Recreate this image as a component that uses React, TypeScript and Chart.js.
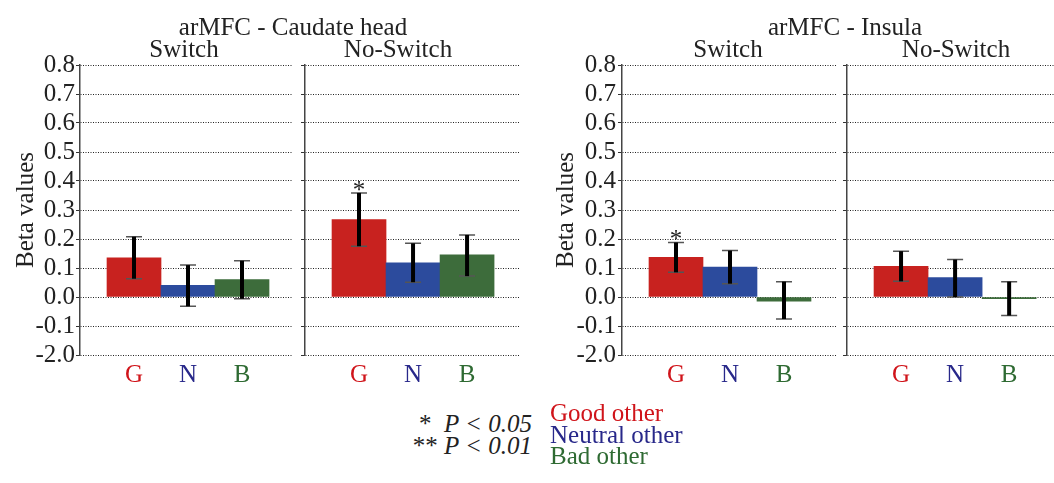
import React, { useEffect, useRef } from "react";
import { Chart, registerables } from "chart.js";

Chart.register(...registerables);

const FONT = '"Liberation Serif", "Times New Roman", serif';

// ---- data ----
const categories = ["G", "N", "B"];
const yTickValues = [-0.2, -0.1, 0, 0.1, 0.2, 0.3, 0.4, 0.5, 0.6, 0.7, 0.8];
const yTickLabels = ["-2.0", "-0.1", "0.0", "0.1", "0.2", "0.3", "0.4", "0.5", "0.6", "0.7", "0.8"];

const caudateSwitchBeta = [0.135, 0.04, 0.06];
const caudateSwitchLow = [0.063, -0.032, -0.006];
const caudateSwitchHigh = [0.208, 0.11, 0.125];
const caudateSwitchSig = ["", "", ""];

const caudateNoSwitchBeta = [0.267, 0.118, 0.145];
const caudateNoSwitchLow = [0.175, 0.051, 0.072];
const caudateNoSwitchHigh = [0.359, 0.185, 0.214];
const caudateNoSwitchSig = ["*", "", ""];

const insulaSwitchBeta = [0.137, 0.103, -0.014];
const insulaSwitchLow = [0.085, 0.046, -0.076];
const insulaSwitchHigh = [0.188, 0.16, 0.053];
const insulaSwitchSig = ["*", "", ""];

const insulaNoSwitchBeta = [0.106, 0.067, -0.006];
const insulaNoSwitchLow = [0.054, 0.0, -0.064];
const insulaNoSwitchHigh = [0.158, 0.129, 0.053];
const insulaNoSwitchSig = ["", "", ""];

const legendLabels = ["Good other", "Neutral other", "Bad other"];
const sigLabels = ["*\u00a0\u00a0", "**\u00a0"];
const sigTexts = ["P < 0.05", "P < 0.01"];

// ---- styles ----
const barColors = ["#c8221f", "#2c4b9d", "#3d6c3b"];
const labelColors = ["#d0141a", "#28288a", "#2e6a32"];
const CANVAS_H = 400;
const PLOT_TOP = 65;
const PLOT_BOTTOM = 355;
const XAXIS_H = 35;

type Panel = {
  left: number;
  width: number;
  axisWidth: number;
  showLabels: boolean;
  xMax: number;
  padRight: number;
  tickPad: number;
  beta: number[];
  low: number[];
  high: number[];
  sig: string[];
};

const panels: Panel[] = [
  { left: 0, width: 300, axisWidth: 80, showLabels: true, xMax: 2.944, padRight: 7, tickPad: 1,
    beta: caudateSwitchBeta, low: caudateSwitchLow, high: caudateSwitchHigh, sig: caudateSwitchSig },
  { left: 297, width: 230, axisWidth: 8, showLabels: false, xMax: 2.98, padRight: 7, tickPad: 1,
    beta: caudateNoSwitchBeta, low: caudateNoSwitchLow, high: caudateNoSwitchHigh, sig: caudateNoSwitchSig },
  { left: 540, width: 300, axisWidth: 82, showLabels: true, xMax: 2.963, padRight: 4, tickPad: 2,
    beta: insulaSwitchBeta, low: insulaSwitchLow, high: insulaSwitchHigh, sig: insulaSwitchSig },
  { left: 840, width: 214, axisWidth: 7, showLabels: false, xMax: 2.83, padRight: 0, tickPad: 1,
    beta: insulaNoSwitchBeta, low: insulaNoSwitchLow, high: insulaNoSwitchHigh, sig: insulaNoSwitchSig },
];

function PanelChart({ p }: { p: Panel }) {
  const ref = useRef<HTMLCanvasElement | null>(null);
  useEffect(() => {
    if (!ref.current) return;
    const errPlugin = {
      id: "errorBars",
      afterDatasetsDraw(chart: any) {
        const { ctx } = chart;
        const xs = chart.scales.x;
        const ys = chart.scales.y;
        ctx.save();
        p.low.forEach((lo, i) => {
          const px = xs.getPixelForValue(i);
          const yt = ys.getPixelForValue(p.high[i]);
          const yb = ys.getPixelForValue(lo);
          ctx.strokeStyle = "#555";
          ctx.lineWidth = 1.5;
          ctx.beginPath();
          ctx.moveTo(px - 8, yt);
          ctx.lineTo(px + 8, yt);
          ctx.moveTo(px - 8, yb);
          ctx.lineTo(px + 8, yb);
          ctx.stroke();
          ctx.strokeStyle = "#000";
          ctx.lineWidth = 4;
          ctx.beginPath();
          ctx.moveTo(px, yt);
          ctx.lineTo(px, yb);
          ctx.stroke();
          if (p.sig[i]) {
            ctx.fillStyle = "#222";
            ctx.font = `25px ${FONT}`;
            ctx.textAlign = "center";
            ctx.textBaseline = "alphabetic";
            ctx.fillText(p.sig[i], px, yt + 5);
          }
        });
        ctx.restore();
      },
    };
    const chart = new Chart(ref.current, {
      type: "bar",
      data: {
        datasets: [
          {
            data: p.beta.map((v, i) => ({ x: i, y: v })),
            backgroundColor: barColors,
            borderWidth: 0,
            barPercentage: 1,
            categoryPercentage: 1,
          },
        ],
      },
      options: {
        animation: false,
        responsive: false,
        maintainAspectRatio: false,
        layout: { padding: { top: PLOT_TOP, right: p.padRight, bottom: CANVAS_H - PLOT_BOTTOM - XAXIS_H, left: 0 } },
        plugins: { legend: { display: false }, tooltip: { enabled: false }, title: { display: false } },
        scales: {
          x: {
            type: "linear",
            min: -1,
            max: p.xMax,
            offset: false,
            bounds: "data",
            afterBuildTicks: (s: any) => {
              s.ticks = categories.map((_, i) => ({ value: i }));
            },
            afterFit: (s: any) => {
              s.height = XAXIS_H;
            },
            grid: { display: false, offset: false },
            border: { display: false },
            ticks: {
              autoSkip: false,
              maxRotation: 0,
              padding: -3,
              font: { family: FONT, size: 25 },
              color: (ctx: any) => labelColors[ctx.index],
              callback: (_v: any, i: number) => categories[i],
            },
          },
          y: {
            type: "linear",
            min: -0.2,
            max: 0.8,
            afterBuildTicks: (s: any) => {
              s.ticks = yTickValues.map((v) => ({ value: v }));
            },
            afterFit: (s: any) => {
              s.width = p.axisWidth;
            },
            grid: {
              color: "#222",
              lineWidth: 1,
              drawTicks: true,
              tickLength: 4,
              tickColor: "#333",
              tickBorderDash: [],
            },
            border: { display: true, color: "#444", width: 1.5, dash: [1, 1.5] },
            ticks: {
              display: p.showLabels,
              autoSkip: false,
              padding: p.tickPad,
              color: "#222",
              font: { family: FONT, size: 25 },
              callback: (_v: any, i: number) => yTickLabels[i],
            },
            title: {
              display: p.showLabels,
              text: "Beta values",
              color: "#222",
              font: { family: FONT, size: 25 },
              padding: { top: 11, bottom: 0 },
            },
          },
        },
      } as any,
      plugins: [errPlugin],
    });
    return () => chart.destroy();
  }, [p]);
  return (
    <canvas
      ref={ref}
      width={p.width}
      height={CANVAS_H}
      style={{ position: "absolute", left: p.left, top: 0, width: p.width, height: CANVAS_H }}
    />
  );
}

const textBase: React.CSSProperties = {
  position: "absolute",
  fontFamily: FONT,
  fontSize: 25,
  lineHeight: "25px",
  color: "#222",
  whiteSpace: "nowrap",
};

function Label({ text, cx, baseline }: { text: string; cx: number; baseline: number }) {
  return (
    <div style={{ ...textBase, left: cx, top: baseline - 21, transform: "translateX(-50%)" }}>{text}</div>
  );
}

export default function App() {
  return (
    <div style={{ position: "absolute", left: 0, top: 0, width: 1054, height: 483, background: "#fff", overflow: "hidden" }}>
      {panels.map((p, i) => (
        <PanelChart key={i} p={p} />
      ))}
      <Label text="arMFC - Caudate head" cx={293} baseline={35} />
      <Label text="Switch" cx={184} baseline={57} />
      <Label text="No-Switch" cx={398} baseline={57} />
      <Label text="arMFC - Insula" cx={845} baseline={35} />
      <Label text="Switch" cx={728} baseline={57} />
      <Label text="No-Switch" cx={956} baseline={57} />
      <div style={{ ...textBase, left: 330, width: 202, top: 413, lineHeight: "21.5px", textAlign: "right" }}>
        {sigLabels.map((s, i) => (
          <div key={i}>
            {s}
            <i>{sigTexts[i]}</i>
          </div>
        ))}
      </div>
      <div style={{ ...textBase, left: 550, top: 402, lineHeight: "21.5px" }}>
        {legendLabels.map((t, i) => (
          <div key={i} style={{ color: labelColors[i] }}>
            {t}
          </div>
        ))}
      </div>
    </div>
  );
}
